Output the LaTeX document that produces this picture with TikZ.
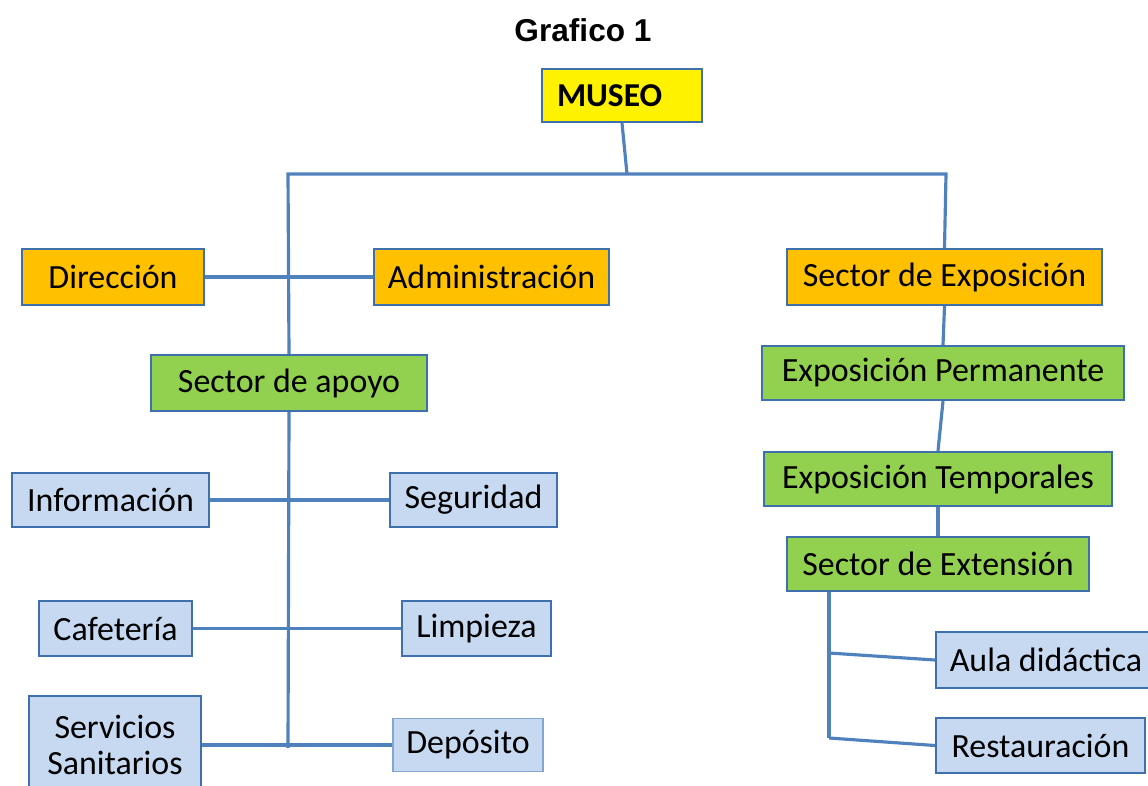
\documentclass[tikz,border=0pt]{standalone}
\usepackage{fontspec}
\setmainfont{Carlito}
\newfontfamily\titlefont{Liberation Sans}
\usetikzlibrary{backgrounds}
\definecolor{lineblue}{RGB}{79,129,189}
\definecolor{edgeblue}{RGB}{62,112,172}
\definecolor{orangefill}{RGB}{255,192,0}
\definecolor{greenfill}{RGB}{146,208,80}
\definecolor{bluefill}{RGB}{198,217,241}
\tikzset{
  box/.style={draw=edgeblue, line width=1.3pt, inner sep=0pt, font=\fontsize{19.3}{23}\selectfont},
  orangebox/.style={box, fill=orangefill},
  greenbox/.style={box, fill=greenfill},
  bluebox/.style={box, fill=bluefill},
  sz/.style 2 args={minimum width=#1*0.02cm, minimum height=#2*0.02cm},
  conn/.style={lineblue, line width=1.8pt}
}
\begin{document}
\begin{tikzpicture}[x=0.02cm,y=-0.02cm]
\useasboundingbox (0,0) rectangle (1148,786);
\node[font=\titlefont\bfseries\fontsize{18}{22}\selectfont] (title) at (583,30) {Grafico 1};
% top of the chart
\node[box, fill=yellow, text width=2.6cm, inner xsep=0.3cm, minimum height=53*0.02cm, align=left,
  font=\bfseries\fontsize{19}{22}\selectfont] (museo) at (622,95.5) {MUSEO};
\node[orangebox, sz={182}{56}] (dir) at (113,277) {Dirección};
\node[orangebox, sz={235}{56}] (adm) at (491.5,277) {Administración};
\node[orangebox, sz={315}{56}] (sexp) at (944.5,277) {Sector de Exposición};
% left branch
\node[greenbox, sz={276}{56}] (sapoyo) at (289,383) {Sector de apoyo};
\node[bluebox, sz={197}{54}] (info) at (110.5,500) {Información};
\node[bluebox, sz={167}{54}] (seg) at (473.5,500) {Seguridad};
\node[bluebox, sz={153}{55}] (caf) at (115.5,628.5) {Cafetería};
\node[bluebox, sz={149}{55}] (limp) at (476.5,628.5) {Limpieza};
\node[bluebox, sz={172}{98}, align=center, font=\fontsize{19.3}{20.5}\selectfont] (serv) at (115,745) {Servicios\\Sanitarios};
\node[bluebox, draw=lineblue!70, line width=1pt, sz={150}{53}] (dep) at (468,745) {Depósito};
% right branch
\node[greenbox, sz={362}{54}] (eperm) at (943,373) {Exposición Permanente};
\node[greenbox, sz={348}{54}] (etemp) at (938,479) {Exposición Temporales};
\node[greenbox, sz={302}{54}] (sext) at (938,564) {Sector de Extensión};
\node[bluebox, sz={220}{56}] (aula) at (1046,660) {Aula didáctica};
\node[bluebox, sz={209}{55}] (rest) at (1040.5,745.5) {Restauración};
% connectors
\coordinate (jtop) at (627,174);
\coordinate (jl) at (288,174);
\coordinate (jr) at (946,174);
\coordinate (jbot) at (288,748);
\coordinate (ktop) at (829,591);
\coordinate (ka) at (829,653);
\coordinate (kb) at (829,738);
\begin{scope}[on background layer]
\draw[conn] (museo.south) -- (jtop);
\draw[conn] (sapoyo.north) -- (jl) -- (jr) -- (sexp.north);
\draw[conn] (sapoyo.south) -- (jbot);
\draw[conn] (dir.east) -- (adm.west);
\draw[conn] (info.east) -- (seg.west);
\draw[conn] (caf.east) -- (limp.west);
\draw[conn] (serv.east) -- (dep.west);
\draw[conn] (sexp.south) -- (eperm.north);
\draw[conn] (eperm.south) -- (etemp.north);
\draw[conn] (etemp.south) -- (sext.north);
\draw[conn] (ktop) -- (kb);
\draw[conn] (ka) -- (aula.west);
\draw[conn] (kb) -- (rest.west);
\end{scope}
\end{tikzpicture}
\end{document}
